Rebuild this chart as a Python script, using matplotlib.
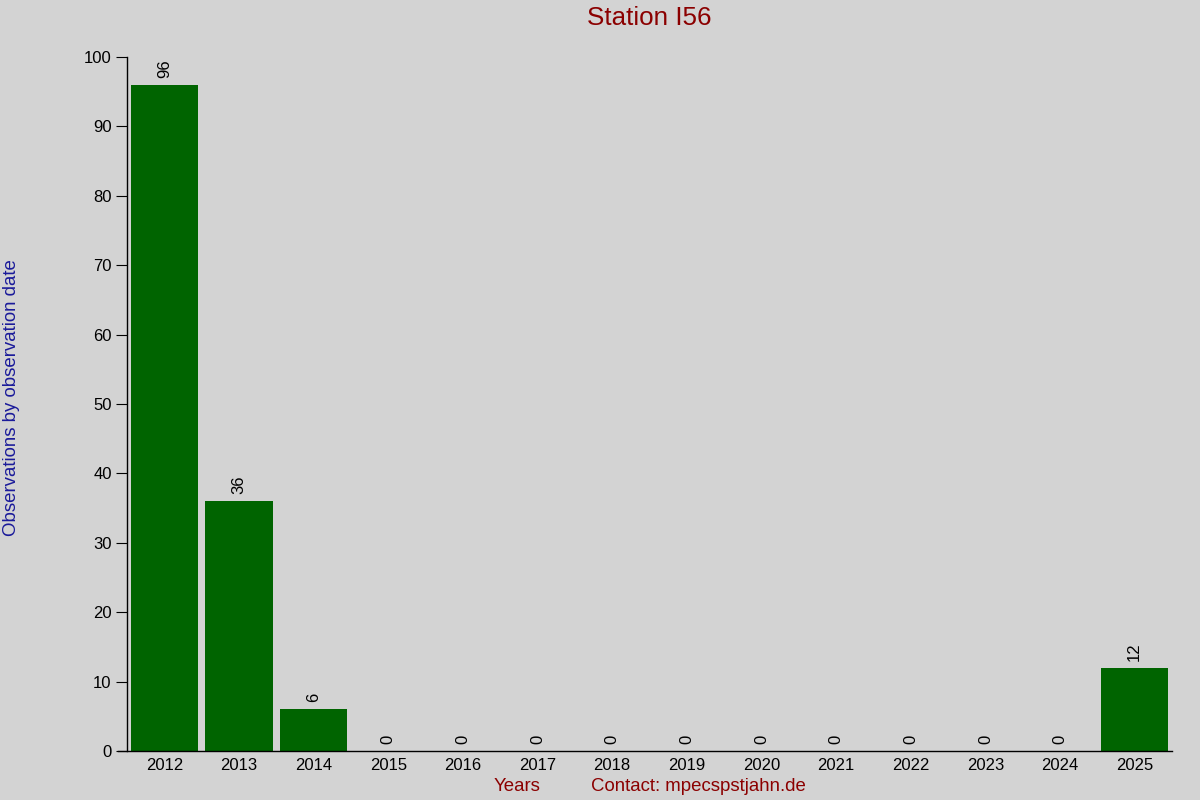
import matplotlib
matplotlib.use("Agg")
import matplotlib.pyplot as plt

# data
years = ["2012", "2013", "2014", "2015", "2016", "2017", "2018",
         "2019", "2020", "2021", "2022", "2023", "2024", "2025"]
counts = [96, 36, 6, 0, 0, 0, 0, 0, 0, 0, 0, 0, 0, 12]

plt.rcParams['font.family'] = ['Liberation Sans', 'DejaVu Sans']

bg = "#d3d3d3"
fig = plt.figure(figsize=(12, 8), dpi=100, facecolor=bg)
ax = fig.add_axes([0.1058, 0.06125, 0.8709, 0.8675])
ax.set_facecolor(bg)

x = list(range(len(years)))
ax.bar(x, counts, width=0.9, color="#006400")

for xi, v in zip(x, counts):
    ax.text(xi, v + 1, str(v), rotation=90, ha="center", va="bottom",
            fontsize=12, color="black")

ax.set_xlim(-0.5, len(years) - 0.5)
ax.set_ylim(0, 100)
ax.set_yticks(range(0, 101, 10))
ax.set_xticks(x)
ax.set_xticklabels(years)

for s in ["top", "right"]:
    ax.spines[s].set_visible(False)
ax.spines["left"].set_linewidth(1)
ax.spines["bottom"].set_linewidth(1)
ax.spines["bottom"].set_bounds(-0.62, len(years) - 0.5)

ax.tick_params(axis="y", direction="out", length=8, labelsize=12, pad=3)
ax.tick_params(axis="x", length=0, labelsize=12, pad=5)

# tiny marks along the top
ax.scatter(x, [100] * len(x), s=0.4, color="black", marker="s",
           linewidths=0, clip_on=False)

fig.text(0.541, 0.977, "Station I56", ha="center", va="center",
         fontsize=18.7, color="#8b0000")
fig.text(0.0095, 0.503, "Observations by observation date", rotation=90,
         ha="center", va="center", fontsize=13.4, color="#1a1a9a")
fig.text(0.431, 0.017, "Years", ha="center", va="center",
         fontsize=13.4, color="#8b0000")
fig.text(0.582, 0.017, "Contact: mpecspstjahn.de", ha="center", va="center",
         fontsize=13.4, color="#8b0000")

fig.savefig("out.png", dpi=100, facecolor=bg)
